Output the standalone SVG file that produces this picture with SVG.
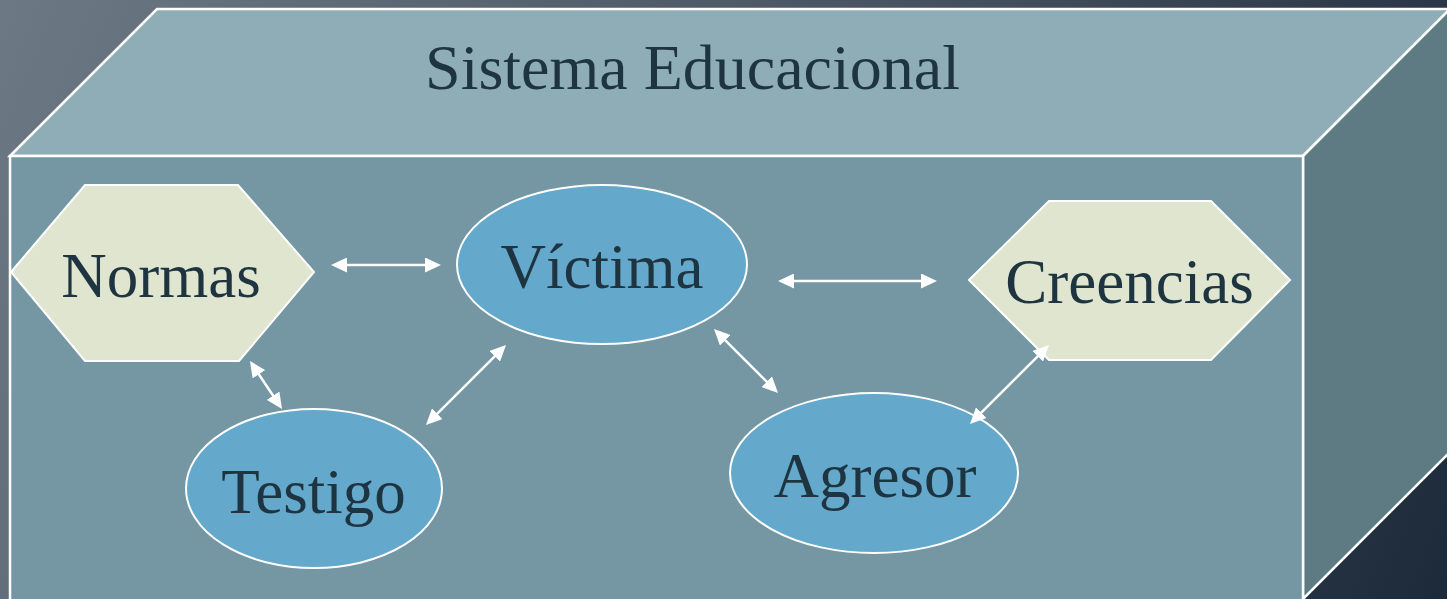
<svg xmlns="http://www.w3.org/2000/svg" width="1447" height="599" viewBox="0 0 1447 599">
  <defs>
    <linearGradient id="bg" gradientUnits="userSpaceOnUse" x1="0" y1="0" x2="1447" y2="599">
      <stop offset="0" stop-color="#6c7985"/>
      <stop offset="0.55" stop-color="#45525f"/>
      <stop offset="1" stop-color="#1c2a3a"/>
    </linearGradient>
    <marker id="ah" markerUnits="userSpaceOnUse" markerWidth="16" markerHeight="15" refX="12" refY="7.5" orient="auto-start-reverse" viewBox="0 0 16 15">
      <path d="M0,0 L16,7.5 L0,15 z" fill="#ffffff"/>
    </marker>
  </defs>
  <style>
    .face { stroke: #ffffff; stroke-width: 2.5; stroke-linejoin: miter; }
    .hex { fill: #dfe5cf; stroke: #ffffff; stroke-width: 2; }
    .ell { fill: #64a8cb; stroke: #ffffff; stroke-width: 2; }
    .lbl { font-family: "Liberation Serif", "Times New Roman", serif; font-size: 63px; fill: #1e3541; text-anchor: middle; }
    .title { font-family: "Liberation Serif", "Times New Roman", serif; font-size: 64px; fill: #1e3541; text-anchor: middle; }
    .conn line { stroke: #ffffff; stroke-width: 2.5; marker-start: url(#ah); marker-end: url(#ah); }
  </style>
  <rect x="0" y="0" width="1447" height="599" fill="url(#bg)"/>

  <g id="sistema-educacional">
    <polygon class="face" points="10,156 157,9 1450,9 1303,156" fill="#8fadb6"/>
    <polygon class="face" points="1303,156 1450,9 1450,452 1303,599" fill="#5e7b84"/>
    <rect class="face" x="10" y="156" width="1293" height="450" fill="#7497a3"/>
    <text class="title" x="692.5" y="89">Sistema Educacional</text>
  </g>

  <g id="normas">
    <polygon class="hex" points="11,272 85,185 238,185 314,272 239,361 85,361"/>
    <text class="lbl" x="161" y="297">Normas</text>
  </g>

  <g id="creencias">
    <polygon class="hex" points="969,280 1049,201 1211,201 1290,280 1211,360 1049,360"/>
    <text class="lbl" x="1129.5" y="303">Creencias</text>
  </g>

  <g id="victima">
    <ellipse class="ell" cx="602" cy="264.5" rx="145" ry="79.5"/>
    <text class="lbl" x="602" y="288">Víctima</text>
  </g>

  <g id="testigo">
    <ellipse class="ell" cx="314" cy="488.5" rx="128" ry="79.5"/>
    <text class="lbl" x="313.5" y="513">Testigo</text>
  </g>

  <g id="agresor">
    <ellipse class="ell" cx="874" cy="473" rx="144" ry="80"/>
    <text class="lbl" x="875" y="497">Agresor</text>
  </g>

  <g id="connectors" class="conn">
    <line x1="335" y1="265" x2="437" y2="265"/>
    <line x1="782" y1="281" x2="933" y2="281"/>
    <line x1="716.8" y1="331.8" x2="775.2" y2="390.2"/>
    <line x1="1046.2" y1="347.8" x2="972.8" y2="421.2"/>
    <line x1="252.2" y1="364.3" x2="279.8" y2="405.7"/>
    <line x1="503.2" y1="347.8" x2="428.8" y2="422.2"/>
  </g>
</svg>
